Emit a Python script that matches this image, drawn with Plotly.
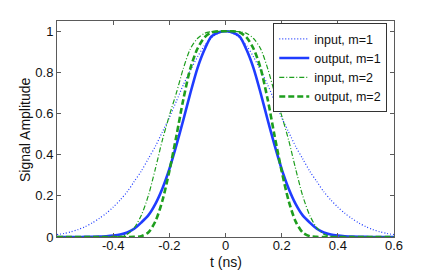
import plotly.graph_objects as go

# time axis (ns)
t_ns = [
    -0.6, -0.575, -0.55, -0.525, -0.5, -0.475, -0.45, -0.425, -0.4, -0.375,
    -0.35, -0.325, -0.3, -0.275, -0.25, -0.225, -0.2, -0.175, -0.15, -0.125,
    -0.1, -0.075, -0.05, -0.025, 0.0, 0.025, 0.05, 0.075, 0.1, 0.125,
    0.15, 0.175, 0.2, 0.225, 0.25, 0.275, 0.3, 0.325, 0.35, 0.375,
    0.4, 0.425, 0.45, 0.475, 0.5, 0.525, 0.55, 0.575, 0.6,
]

input_m1 = [
    0.012, 0.017, 0.025, 0.036, 0.05, 0.068, 0.09, 0.115, 0.145, 0.18,
    0.22, 0.27, 0.32, 0.38, 0.44, 0.51, 0.58, 0.66, 0.74, 0.81,
    0.875, 0.93, 0.968, 0.992, 1.0, 0.992, 0.968, 0.93, 0.875, 0.81,
    0.74, 0.66, 0.58, 0.51, 0.44, 0.38, 0.32, 0.27, 0.22, 0.18,
    0.145, 0.115, 0.09, 0.068, 0.05, 0.036, 0.025, 0.017, 0.012,
]

output_m1 = [
    0.0, 0.0, 0.0, 0.0, 0.0005, 0.001, 0.002, 0.004, 0.007, 0.012,
    0.022, 0.04, 0.07, 0.105, 0.16, 0.235, 0.33, 0.445, 0.57, 0.70,
    0.82, 0.91, 0.975, 0.994, 1.0, 0.994, 0.975, 0.91, 0.82, 0.70,
    0.57, 0.445, 0.33, 0.235, 0.16, 0.105, 0.07, 0.04, 0.022, 0.012,
    0.007, 0.004, 0.002, 0.001, 0.0005, 0.0, 0.0, 0.0, 0.0,
]

input_m2 = [
    0.0, 0.0, 0.0, 0.0, 0.0, 0.0, 0.0, 0.0, 0.0005, 0.003,
    0.014, 0.045, 0.105, 0.20, 0.33, 0.47, 0.59, 0.70, 0.82, 0.915,
    0.965, 0.99, 0.998, 1.0, 1.0, 1.0, 0.998, 0.99, 0.965, 0.915,
    0.82, 0.70, 0.59, 0.47, 0.33, 0.20, 0.105, 0.045, 0.014, 0.003,
    0.0005, 0.0, 0.0, 0.0, 0.0, 0.0, 0.0, 0.0, 0.0,
]

output_m2 = [
    0.0, 0.0, 0.0, 0.0, 0.0, 0.0, 0.0, 0.0, 0.0, 0.0,
    0.0, 0.0005, 0.004, 0.022, 0.075, 0.175, 0.32, 0.49, 0.67, 0.82,
    0.915, 0.97, 0.995, 1.0, 1.0, 1.0, 0.995, 0.97, 0.915, 0.82,
    0.67, 0.49, 0.32, 0.175, 0.075, 0.022, 0.004, 0.0005, 0.0, 0.0,
    0.0, 0.0, 0.0, 0.0, 0.0, 0.0, 0.0, 0.0, 0.0,
]

x_ticks = [-0.4, -0.2, 0, 0.2, 0.4, 0.6]
x_ticktext = ["-0.4", "-0.2", "0", "0.2", "0.4", "0.6"]
y_ticks = [0, 0.2, 0.4, 0.6, 0.8, 1]

BLUE = "#1f3cff"
GREEN = "#1e9e1e"
FONT = "Liberation Sans, Arial, sans-serif"

series = [
    ("input, m=1", input_m1, dict(color=BLUE, width=1.2, dash="1px,2px")),
    ("output, m=1", output_m1, dict(color=BLUE, width=2.6)),
    ("input, m=2", input_m2, dict(color=GREEN, width=1.2, dash="5px,2px,1px,2px")),
    ("output, m=2", output_m2, dict(color=GREEN, width=2.6, dash="6px,3px")),
]

fig = go.Figure()
for name, vals, line in series:
    fig.add_trace(go.Scatter(
        x=t_ns,
        y=vals,
        name=name,
        mode="lines",
        line=dict(shape="spline", smoothing=0.8, **line),
    ))

axis_common = dict(
    showline=True,
    linecolor="#5a5a5a",
    linewidth=1,
    mirror="ticks",
    ticks="inside",
    ticklen=4,
    tickcolor="#5a5a5a",
    showgrid=False,
    zeroline=False,
    tickfont=dict(size=13, color="#111"),
)

# page body has an 8px margin, so the figure is a bit smaller than the window
fig.update_layout(
    width=428,
    height=262,
    paper_bgcolor="white",
    plot_bgcolor="white",
    font=dict(family=FONT, size=13, color="#111"),
    margin=dict(l=49, r=42, t=13, b=33),
    xaxis=dict(
        range=[-0.6, 0.6],
        tickvals=x_ticks,
        ticktext=x_ticktext,
        ticklabelstandoff=-4,
        **axis_common,
    ),
    yaxis=dict(range=[0, 1.05], tickvals=y_ticks, **axis_common),
    legend=dict(
        x=0.98,
        y=0.99,
        xanchor="right",
        yanchor="top",
        bgcolor="white",
        bordercolor="#333",
        borderwidth=1,
        font=dict(size=12.5),
        tracegroupgap=0,
        itemwidth=30,
    ),
    annotations=[
        dict(
            text="t (ns)",
            x=0.5, xref="paper",
            y=-0.115, yref="paper",
            yanchor="middle",
            showarrow=False,
            font=dict(size=14),
        ),
        dict(
            text="Signal Amplitude",
            x=-0.095, xref="paper",
            y=0.5, yref="paper",
            xanchor="center",
            textangle=-90,
            showarrow=False,
            font=dict(size=14),
        ),
    ],
    showlegend=True,
)

fig.write_html("out.html")
